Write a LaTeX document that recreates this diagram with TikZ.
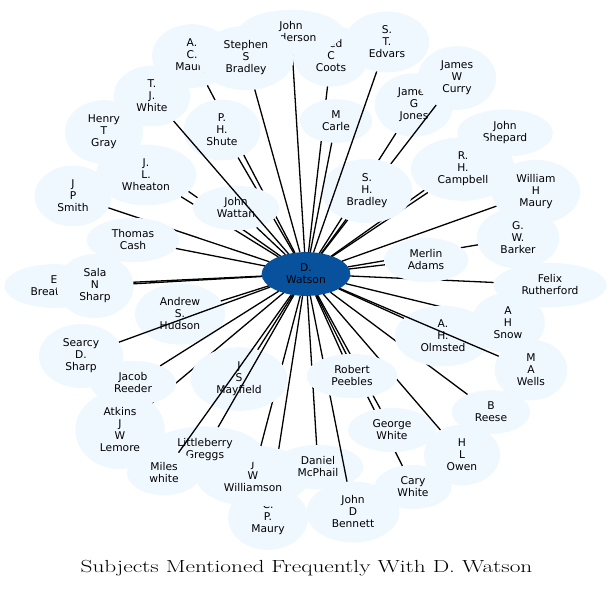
\documentclass[tikz,border=0pt]{standalone}
\usepackage{fontspec}
\usepackage{tikz}
\usetikzlibrary{shapes.geometric}
\newfontfamily\subjfont{DejaVu Sans}
\definecolor{subjfill}{HTML}{F0F8FF}
\definecolor{hubfill}{HTML}{08519C}
\tikzset{
	subj/.style={ellipse, fill=subjfill, inner xsep=11.6pt, inner ysep=5.5pt, outer sep=0pt, align=center, font=\subjfont\fontsize{10.7}{12}\selectfont},
	hub/.style={subj, fill=hubfill},
	link/.style={line width=1.3pt}
}
\begin{document}
\begin{tikzpicture}[x=1pt, y=-1pt]
		\useasboundingbox (0,0) rectangle (613,590);
		\node (W) [hub] at (306,274) {D.\\Watson};
		\node (Coots) [subj] at (331,56) {Fred\\C\\Coots};
		\draw [link] (W) -- (Coots);
		\node (ACMaury) [subj] at (192,56) {A.\\C.\\Maury};
		\draw [link] (W) -- (ACMaury);
		\node (Anderson) [subj] at (291,32) {John\\Anderson};
		\draw [link] (W) -- (Anderson);
		\node (Stephen) [subj] at (246,58) {Stephen\\S\\Bradley};
		\draw [link] (W) -- (Stephen);
		\node (Gray) [subj] at (104,132) {Henry\\T\\Gray};
		\draw [link] (W) -- (Gray);
		\node (Wheaton) [subj] at (146,175) {J.\\L.\\Wheaton};
		\draw [link] (W) -- (Wheaton);
		\node (Shute) [subj] at (222,130) {P.\\H.\\Shute};
		\draw [link] (W) -- (Shute);
		\node (Wattan) [subj] at (236,208) {John\\Wattan};
		\draw [link] (W) -- (Wattan);
		\node (TJWhite) [subj] at (152,96) {T.\\J.\\White};
		\draw [link] (W) -- (TJWhite);
		\node (Smith) [subj] at (73,196) {J\\P\\Smith};
		\draw [link] (W) -- (Smith);
		\node (Cash) [subj] at (133,240) {Thomas\\Cash};
		\draw [link] (W) -- (Cash);
		\node (Breathitt) [subj] at (54,286) {E\\Breathitt};
		\draw [link] (W) -- (Breathitt);
		\node (Sala) [subj] at (95,286) {Sala\\N\\Sharp};
		\draw [link] (W) -- (Sala);
		\node (Hudson) [subj] at (180,314) {Andrew\\S.\\Hudson};
		\draw [link] (W) -- (Hudson);
		\node (Searcy) [subj] at (81,356) {Searcy\\D.\\Sharp};
		\draw [link] (W) -- (Searcy);
		\node (CPMaury) [subj] at (268,518) {C.\\P.\\Maury};
		\draw [link] (W) -- (CPMaury);
		\node (Williamson) [subj] at (253,476) {J\\W\\Williamson};
		\draw [link] (W) -- (Williamson);
		\node (Lemore) [subj] at (120,430) {Atkins\\J\\W\\Lemore};
		\draw [link] (W) -- (Lemore);
		\node (Reeder) [subj] at (133,383) {Jacob\\Reeder};
		\draw [link] (W) -- (Reeder);
		\node (Mayfield) [subj] at (239,379) {J\\S\\Mayfield};
		\draw [link] (W) -- (Mayfield);
		\node (Greggs) [subj] at (205,450) {Littleberry\\Greggs};
		\draw [link] (W) -- (Greggs);
		\node (Miles) [subj] at (164,473) {Miles\\white};
		\draw [link] (W) -- (Miles);
		\node (McPhail) [subj] at (318,467) {Daniel\\McPhail};
		\draw [link] (W) -- (McPhail);
		\node (Bennett) [subj] at (353,512) {John\\D\\Bennett};
		\draw [link] (W) -- (Bennett);
		\node (CaryW) [subj] at (413,487) {Cary\\White};
		\draw [link] (W) -- (CaryW);
		\node (GeorgeW) [subj] at (392,430) {George\\White};
		\draw [link] (W) -- (GeorgeW);
		\node (Owen) [subj] at (462,455) {H\\L\\Owen};
		\draw [link] (W) -- (Owen);
		\node (Peebles) [subj] at (352,376) {Robert\\Peebles};
		\draw [link] (W) -- (Peebles);
		\node (Reese) [subj] at (491,412) {B\\Reese};
		\draw [link] (W) -- (Reese);
		\node (Snow) [subj] at (508,323) {A\\H\\Snow};
		\draw [link] (W) -- (Snow);
		\node (Olmsted) [subj] at (443,336) {A.\\H.\\Olmsted};
		\draw [link] (W) -- (Olmsted);
		\node (Wells) [subj] at (531,370) {M\\A\\Wells};
		\draw [link] (W) -- (Wells);
		\node (Felix) [subj] at (550,285) {Felix\\Rutherford};
		\draw [link] (W) -- (Felix);
		\node (Barker) [subj] at (518,238) {G.\\W.\\Barker};
		\draw [link] (W) -- (Barker);
		\node (WHMaury) [subj] at (536,192) {William\\H\\Maury};
		\draw [link] (W) -- (WHMaury);
		\node (Adams) [subj] at (426,260) {Merlin\\Adams};
		\draw [link] (W) -- (Adams);
		\node (Shepard) [subj] at (505,133) {John\\Shepard};
		\draw [link] (W) -- (Shepard);
		\node (Campbell) [subj] at (463,169) {R.\\H.\\Campbell};
		\draw [link] (W) -- (Campbell);
		\node (Jones) [subj] at (414,105) {James\\G\\Jones};
		\draw [link] (W) -- (Jones);
		\node (Curry) [subj] at (457,78) {James\\W\\Curry};
		\draw [link] (W) -- (Curry);
		\node (SHBradley) [subj] at (367,191) {S.\\H.\\Bradley};
		\draw [link] (W) -- (SHBradley);
		\node (Carle) [subj] at (336,121) {M\\Carle};
		\draw [link] (W) -- (Carle);
		\node (Edvars) [subj] at (387,42) {S.\\T.\\Edvars};
		\draw [link] (W) -- (Edvars);
		\node (title) [anchor=base] at (306.5,572) {\fontsize{17.5}{20}\selectfont\scalebox{1.33}[1]{Subjects Mentioned Frequently With D. Watson}};
		\end{tikzpicture}
\end{document}
